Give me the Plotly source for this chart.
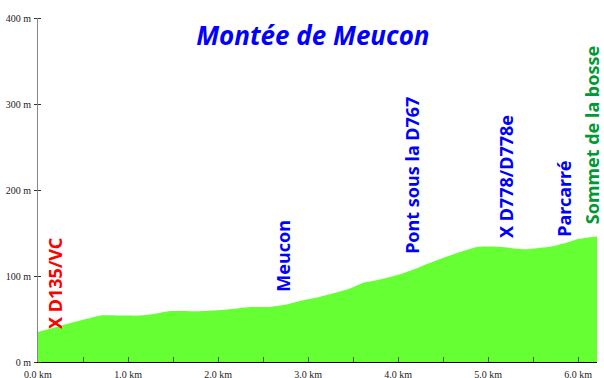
import numpy as np
import plotly.graph_objects as go

# Elevation profile: distance (km) and altitude (m)
dist_km = [0.0, 0.25, 0.5, 0.7, 0.9, 1.13, 1.3, 1.45, 1.8, 2.1, 2.36, 2.55, 2.76,
           2.91, 3.1, 3.28, 3.45, 3.61, 3.8, 4.02, 4.21, 4.35, 4.5, 4.69, 4.9,
           5.13, 5.3, 5.43, 5.6, 5.69, 5.88, 6.0, 6.21]
alt_m = [35, 42, 49, 54, 54, 54, 56, 59, 59, 61, 64, 64, 67,
         71, 75, 80, 85, 92, 96, 102, 109, 115, 121, 128, 134,
         134, 132, 131, 133, 134, 139, 143, 146]

# Waypoints along the climb
wp_names = ["X D135/VC", "Meucon", "Pont sous la D767", "X D778/D778e",
            "Parcarré", "Sommet de la bosse"]
wp_km = [0.19, 2.72, 4.16, 5.2, 5.85, 6.15]
wp_colors = ["#FF0000", "#0000FF", "#0000FF", "#0000FF", "#0000FF", "#009933"]
# vertical gap (px) between the profile and each waypoint label
wp_shift_px = [-4, 11, 14, 7, 4, 11]

# Axis ticks
y_ticks = [0, 100, 200, 300, 400]
y_ticktext = ["0 m", "100 m", "200 m", "300 m", "400 m"]
x_ticks = [0, 1, 2, 3, 4, 5, 6]
x_ticktext = ["0.0 km", "1.0 km", "2.0 km", "3.0 km", "4.0 km", "5.0 km", "6.0 km"]

fig = go.Figure()
fig.add_trace(go.Scatter(
    x=dist_km, y=alt_m, mode="lines", fill="tozeroy",
    line=dict(color="#66FF33", width=0, shape="spline", smoothing=0.6),
    fillcolor="#66FF33", hoverinfo="skip", showlegend=False,
))

label_font = dict(family="Noto Sans", size=18, weight="bold")
for name, km, col, dy in zip(wp_names, wp_km, wp_colors, wp_shift_px):
    fig.add_annotation(
        x=km, y=float(np.interp(km, dist_km, alt_m)), text=name,
        textangle=-90, showarrow=False, xanchor="center", yanchor="bottom",
        yshift=dy, font=dict(label_font, color=col),
    )

tick_font = dict(family="Liberation Serif", size=10, color="#222222")
fig.update_layout(
    width=604, height=378,
    margin=dict(l=38, r=7, t=18, b=16, autoexpand=False),
    paper_bgcolor="white", plot_bgcolor="white",
    title=dict(text="Montée de Meucon", x=0.518, xanchor="center",
               y=0.905, yanchor="middle",
               font=dict(family="Noto Sans", size=26, color="#0000FF",
                         weight="bold", style="italic")),
    xaxis=dict(range=[0, 6.21], tickvals=x_ticks, ticktext=x_ticktext,
               automargin=False,
               showgrid=False, zeroline=False, showline=True,
               linecolor="black", linewidth=1,
               ticks="inside", ticklen=5, tickcolor="#555555",
               minor=dict(tickvals=[0.5, 1.5, 2.5, 3.5, 4.5, 5.5],
                          ticks="inside", ticklen=5, tickcolor="#555555"),
               tickfont=tick_font, ticklabelstandoff=3),
    yaxis=dict(range=[0, 400], tickvals=y_ticks, ticktext=y_ticktext,
               automargin=False,
               showgrid=False, zeroline=False, showline=True,
               linecolor="#888888", linewidth=1,
               ticks="outside", ticklen=3, tickcolor="#333333",
               minor=dict(tickvals=y_ticks, ticks="inside", ticklen=3,
                          tickcolor="#333333"),
               tickfont=tick_font, ticklabelstandoff=1),
)

fig.write_html("out.html")
